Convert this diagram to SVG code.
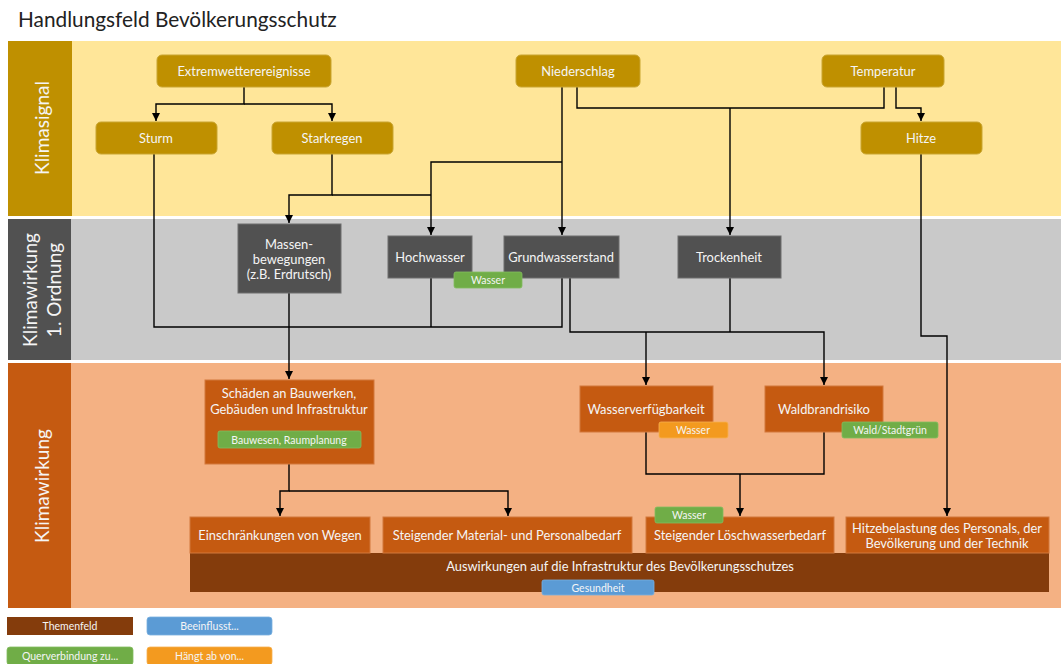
<svg xmlns="http://www.w3.org/2000/svg" width="1061" height="664" viewBox="0 0 1061 664">
<defs>
<marker id="arr" markerUnits="userSpaceOnUse" markerWidth="10" markerHeight="10" refX="8" refY="4" orient="auto">
<path d="M0,0 L8,4 L0,8 Z" fill="#000"/>
</marker>
<style>
text{font-family:Lato,"Open Sans","Liberation Sans",sans-serif;}
.t{font-size:12.9px;fill:#F5F5F5;text-anchor:middle;dominant-baseline:central;}
.tag{font-size:10.5px;fill:#F5F5F5;text-anchor:middle;dominant-baseline:central;}
.side{font-size:19px;fill:#F5F5F5;text-anchor:middle;dominant-baseline:central;}
.sig{fill:#BF9000;stroke:#C9A530;stroke-width:1;}
.k1{fill:#515151;stroke:#6E6E6E;stroke-width:1;}
.k2{fill:#C55A11;stroke:#D2783C;stroke-width:1;}
.green{fill:#70AD47;stroke:#84BC60;stroke-width:0.8;}
.blue{fill:#5B9BD5;stroke:#7AB0E0;stroke-width:0.8;}
.orange{fill:#F39A1F;stroke:#F6B050;stroke-width:0.8;}
.brown{fill:#843C0C;}
.c{fill:none;stroke:#000;stroke-width:1.4;}
</style>
</defs>
<rect width="1061" height="664" fill="#FFFFFF"/>
<text x="18" y="27" style="font-size:20.8px;fill:#222;">Handlungsfeld Bevölkerungsschutz</text>

<g id="bands">
<rect x="8" y="41" width="1053" height="175" fill="#FFE699"/>
<rect x="8" y="41" width="64" height="175" fill="#BF9000"/>
<text class="side" transform="translate(41,128) rotate(-90)">Klimasignal</text>
<rect x="8" y="219" width="1053" height="141" fill="#C9C9C9"/>
<rect x="8" y="219" width="63" height="141" fill="#515151"/>
<text class="side" transform="translate(41,290) rotate(-90)"><tspan x="0" dy="-12">Klimawirkung</tspan><tspan x="0" dy="24">1. Ordnung</tspan></text>
<rect x="8" y="363" width="1053" height="245" fill="#F4B183"/>
<rect x="8" y="363" width="63" height="245" fill="#C55A11"/>
<text class="side" transform="translate(41,486) rotate(-90)">Klimawirkung</text>
</g>

<g id="connectors">
<path class="c" d="M244,87 V104 H156 V121" marker-end="url(#arr)"/>
<path class="c" d="M244,104 H332 V121" marker-end="url(#arr)"/>
<path class="c" d="M332,154 V195 H289 V223" marker-end="url(#arr)"/>
<path class="c" d="M332,195 H431"/>
<path class="c" d="M562,87 V235" marker-end="url(#arr)"/>
<path class="c" d="M562,162 H431 V235" marker-end="url(#arr)"/>
<path class="c" d="M577,87 V108 H884 V87"/>
<path class="c" d="M730,108 V235" marker-end="url(#arr)"/>
<path class="c" d="M896,87 V108 H921 V121" marker-end="url(#arr)"/>
<path class="c" d="M154,154 V327 H562 V278"/>
<path class="c" d="M431,278 V327"/>
<path class="c" d="M289,293 V379" marker-end="url(#arr)"/>
<path class="c" d="M570,278 V332 H824 V385" marker-end="url(#arr)"/>
<path class="c" d="M730,278 V332"/>
<path class="c" d="M646,332 V385" marker-end="url(#arr)"/>
<path class="c" d="M921,154 V336 H947 V516" marker-end="url(#arr)"/>
<path class="c" d="M289,464 V491 H280 V516" marker-end="url(#arr)"/>
<path class="c" d="M289,491 H508 V516" marker-end="url(#arr)"/>
<path class="c" d="M646,432 V474 H824 V432"/>
<path class="c" d="M740,474 V516" marker-end="url(#arr)"/>
</g>

<g id="n-extremwetter"><rect class="sig" x="157" y="55" width="174" height="32" rx="5"/><text class="t" x="244" y="71">Extremwetterereignisse</text></g>
<g id="n-niederschlag"><rect class="sig" x="516" y="55" width="124" height="32" rx="5"/><text class="t" x="578" y="71">Niederschlag</text></g>
<g id="n-temperatur"><rect class="sig" x="822" y="55" width="122" height="32" rx="5"/><text class="t" x="883" y="71">Temperatur</text></g>
<g id="n-sturm"><rect class="sig" x="96" y="122" width="121" height="32" rx="5"/><text class="t" x="156" y="138">Sturm</text></g>
<g id="n-starkregen"><rect class="sig" x="272" y="122" width="121" height="32" rx="5"/><text class="t" x="332" y="138">Starkregen</text></g>
<g id="n-hitze"><rect class="sig" x="861" y="122" width="121" height="32" rx="5"/><text class="t" x="921" y="138">Hitze</text></g>

<g id="n-massen"><rect class="k1" x="238" y="224" width="103" height="69"/><text class="t" x="289" y="244">Massen-</text><text class="t" x="289" y="259">bewegungen</text><text class="t" x="289" y="274">(z.B. Erdrutsch)</text></g>
<g id="n-hochwasser"><rect class="k1" x="388" y="236" width="84" height="42"/><text class="t" x="430" y="257">Hochwasser</text></g>
<g id="n-grundwasser"><rect class="k1" x="504" y="236" width="115" height="42"/><text class="t" x="561" y="257">Grundwasserstand</text></g>
<g id="tag-wasser1"><rect class="green" x="454" y="272" width="68" height="16" rx="2"/><text class="tag" x="488" y="280">Wasser</text></g>
<g id="n-trockenheit"><rect class="k1" x="678" y="236" width="103" height="42"/><text class="t" x="729" y="257">Trockenheit</text></g>

<g id="n-schaeden"><rect class="k2" x="205" y="380" width="169" height="84"/><text class="t" x="289" y="393">Schäden an Bauwerken,</text><text class="t" x="289" y="409">Gebäuden und Infrastruktur</text><rect class="green" x="218" y="431" width="143" height="17" rx="2"/><text class="tag" x="289" y="439.5">Bauwesen, Raumplanung</text></g>
<g id="n-wasserverf"><rect class="k2" x="580" y="386" width="133" height="46"/><text class="t" x="646" y="409">Wasserverfügbarkeit</text><rect class="orange" x="659" y="422" width="69" height="16" rx="2"/><text class="tag" x="693" y="430">Wasser</text></g>
<g id="n-waldbrand"><rect class="k2" x="765" y="386" width="118" height="46"/><text class="t" x="824" y="409">Waldbrandrisiko</text><rect class="green" x="842" y="422" width="96" height="16" rx="2"/><text class="tag" x="890" y="430">Wald/Stadtgrün</text></g>

<g id="n-auswirkungen"><rect class="brown" x="190" y="553" width="859" height="39"/><text class="t" x="620" y="566">Auswirkungen auf die Infrastruktur des Bevölkerungsschutzes</text><rect class="blue" x="542" y="580" width="112" height="15" rx="2"/><text class="tag" x="598" y="587.5">Gesundheit</text></g>
<g id="n-wege"><rect class="k2" x="190" y="517" width="180" height="36"/><text class="t" x="280" y="535">Einschränkungen von Wegen</text></g>
<g id="n-material"><rect class="k2" x="383" y="517" width="249" height="36"/><text class="t" x="507" y="535">Steigender Material- und Personalbedarf</text></g>
<g id="n-loeschwasser"><rect class="k2" x="646" y="517" width="188" height="36"/><text class="t" x="740" y="535">Steigender Löschwasserbedarf</text><rect class="green" x="655" y="507" width="68" height="16" rx="2"/><text class="tag" x="689" y="515">Wasser</text></g>
<g id="n-hitzebelastung"><rect class="k2" x="846" y="517" width="203" height="36"/><text class="t" x="947" y="527.5">Hitzebelastung des Personals, der</text><text class="t" x="947" y="543">Bevölkerung und der Technik</text></g>

<g id="legend">
<rect class="brown" x="7" y="617" width="126" height="18"/><text class="tag" x="70" y="626">Themenfeld</text>
<rect class="blue" x="147" y="617" width="125" height="18" rx="3"/><text class="tag" x="209.5" y="626">Beeinflusst...</text>
<rect class="green" x="7" y="647" width="126" height="18" rx="3"/><text class="tag" x="70" y="656">Querverbindung zu...</text>
<rect class="orange" x="147" y="647" width="125" height="18" rx="3"/><text class="tag" x="209.5" y="656">Hängt ab von...</text>
</g>
</svg>
